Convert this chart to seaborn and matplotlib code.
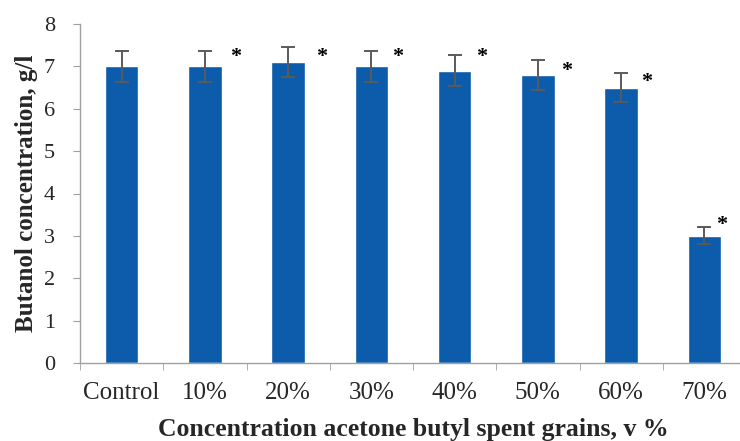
import matplotlib
matplotlib.use("Agg")
import matplotlib.pyplot as plt
from matplotlib.ticker import FixedLocator
import seaborn as sns
import numpy as np

categories = ["Control", "10%", "20%", "30%", "40%", "50%", "60%", "70%"]
butanol = [7.0, 7.0, 7.1, 7.0, 6.9, 6.8, 6.5, 3.0]
errors = [0.36, 0.36, 0.36, 0.36, 0.36, 0.36, 0.34, 0.20]
marked = [False, True, True, True, True, True, True, True]
star_y = [None, 7.22, 7.22, 7.22, 7.22, 6.88, 6.62, 3.25]
star_dx = [0.0, 0.37, 0.40, 0.31, 0.32, 0.34, 0.31, 0.21]

sns.set_style("white")
plt.rcParams["font.family"] = ["Liberation Serif", "DejaVu Serif"]

fig = plt.figure(figsize=(7.4, 4.41), dpi=100)
ax = fig.add_axes([80 / 740, 78 / 441, 666 / 740, 339 / 441])

sns.barplot(x=categories, y=butanol, width=0.4, color="#0D5CAB",
            saturation=1, errorbar=None, ax=ax)
x = np.arange(len(categories))
ax.errorbar(x, butanol, yerr=errors, fmt="none", ecolor="#5a5a5a",
            elinewidth=1.4, capsize=5, capthick=1.4)

for xi, m, sy, dx in zip(x, marked, star_y, star_dx):
    if m:
        ax.text(xi + dx, sy, "*", ha="center", va="center",
                fontsize=16, fontweight="bold", color="black")

ax.set_xlim(-0.5, len(categories) - 0.5)
ax.set_ylim(0, 8)
ax.set_yticks(range(0, 9))
ax.tick_params(axis="y", labelsize=16, length=5, color="#a0a0a0",
               direction="out", left=True, pad=13)
ax.tick_params(axis="x", which="major", labelsize=18, length=0, pad=14)
ax.xaxis.set_minor_locator(FixedLocator(np.arange(-0.5, len(categories), 1.0)))
ax.tick_params(axis="x", which="minor", length=5, color="#a0a0a0",
               direction="out", bottom=True)

for side in ["top", "right"]:
    ax.spines[side].set_visible(False)
for side in ["left", "bottom"]:
    ax.spines[side].set_color("#a0a0a0")
    ax.spines[side].set_linewidth(1.0)

ax.set_ylabel("Butanol concentration, g/l", fontsize=18, fontweight="bold",
              labelpad=4)
ax.set_xlabel("Concentration acetone butyl spent grains, v %", fontsize=18.5,
              fontweight="bold", labelpad=10)

fig.savefig("out.png", dpi=100)
